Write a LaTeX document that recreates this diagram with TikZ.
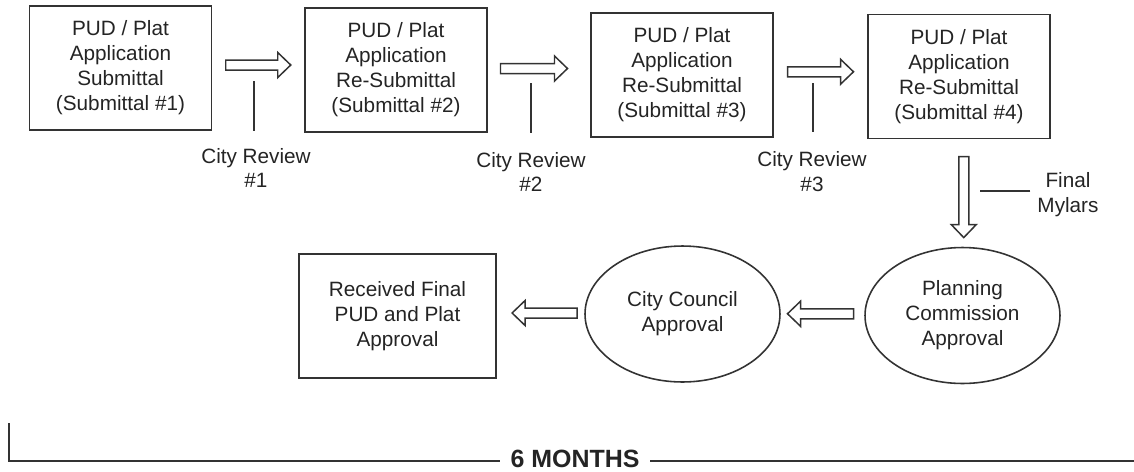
\documentclass[tikz,border=0pt]{standalone}
\usepackage{fontspec}
\setmainfont{Liberation Sans}
\usetikzlibrary{shapes.geometric, calc, positioning}

\definecolor{ink}{HTML}{333333}

% centre, angle, length
\newcommand{\hollowarrow}[3]{%
  \draw[blockarrow, shift={#1}, rotate=#2] (-#3/2,5) -- (#3/2-13,5) -- (#3/2-13,12.5) -- (#3/2,0) -- (#3/2-13,-12.5) -- (#3/2-13,-5) -- (-#3/2,-5) -- cycle;}

\begin{document}
\begin{tikzpicture}[x=0.02cm, y=-0.02cm, font=\fontsize{11.8}{14.2}\selectfont, text=ink!70!black,
  box/.style={rectangle, draw=ink, line width=1.1pt, align=center, minimum width=3.64cm, minimum height=2.48cm},
  oval/.style={ellipse, draw=ink, line width=0.9pt, align=center, inner sep=0pt, minimum width=3.9cm, minimum height=2.72cm},
  blockarrow/.style={draw=ink, line width=0.85pt, fill=white},
  tick/.style={draw=ink, line width=0.8pt},
  note/.style={align=center}]

\useasboundingbox (0,0) rectangle (1134,471);

% submittals
\node[box] (sub1) at (120.5,68) {PUD / Plat\\Application\\Submittal\\(Submittal \#1)};
\node[box] (sub2) at (396,70) {PUD / Plat\\Application\\Re-Submittal\\(Submittal \#2)};
\node[box] (sub3) at (682,75) {PUD / Plat\\Application\\Re-Submittal\\(Submittal \#3)};
\node[box] (sub4) at (959,76.5) {PUD / Plat\\Application\\Re-Submittal\\(Submittal \#4)};

% approvals
\node[box, minimum width=3.94cm] (final) at (397.5,316) {Received Final\\PUD and Plat\\Approval};
\node[oval] (council) at (682.5,314) {City Council\\Approval};
\node[oval] (planning) at (962.5,315.5) {Planning\\Commission\\Approval};

% reviews
\node[note] (rev1) at (256,168) {City Review\\\#1};
\node[note] (rev2) at (531,172) {City Review\\\#2};
\node[note] (rev3) at (812,172) {City Review\\\#3};
\node[note] (mylars) at (1068,195) {Final\\Mylars};

\hollowarrow{($(sub1.east)!0.5!(sub2.west)+(0,-4)$)}{0}{65}
\hollowarrow{($(sub2.east)!0.5!(sub3.west)+(-5,-4)$)}{0}{67}
\hollowarrow{($(sub3.east)!0.5!(sub4.west)+(0,-4)$)}{0}{66}
\hollowarrow{($(sub4.south)!0.5!(planning.north)+(3,4)$)}{-90}{81}
\hollowarrow{($(council.east)!0.5!(planning.west)+(-2,-1)$)}{180}{66}
\hollowarrow{($(final.east)!0.5!(council.west)+(4,-2)$)}{180}{65}

\draw[tick] (rev1.north) ++(-2,-11) -- ++(0,-50);
\draw[tick] (rev2.north) ++(0,-13) -- ++(0,-50);
\draw[tick] (rev3.north) ++(1,-14) -- ++(0,-49);
\draw[tick] (mylars.west) ++(-1,-4) -- ++(-50,0);

% time span
\coordinate (start) at (9,423);
\coordinate (stop) at (1134,461);
\draw[tick, line width=1pt] (start) |- (stop);
\node[fill=white, inner xsep=6pt, anchor=base, font=\bfseries\fontsize{14.2}{16}\selectfont] (months) at (575,467) {6 MONTHS};
\end{tikzpicture}
\end{document}
